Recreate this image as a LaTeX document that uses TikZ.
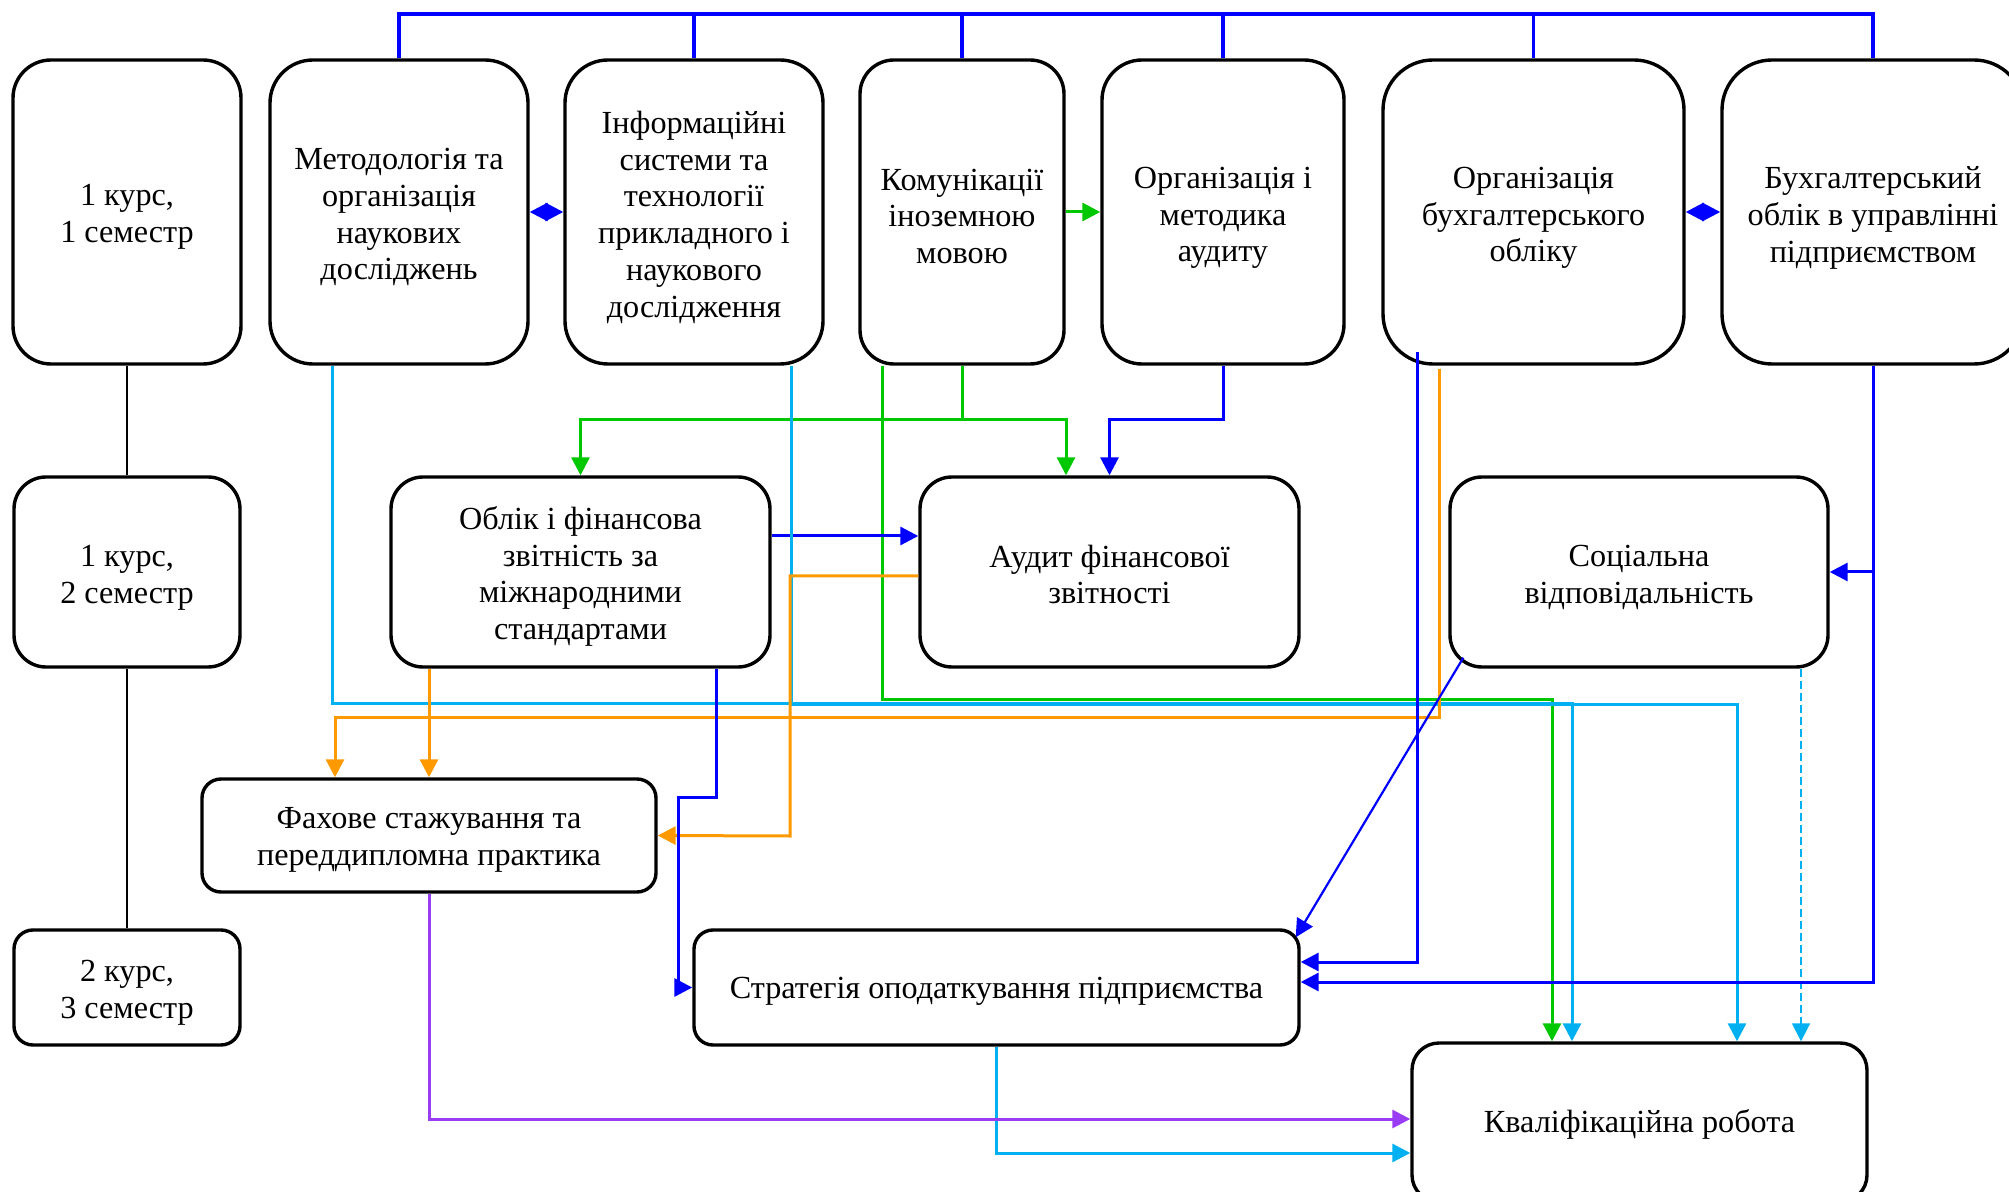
\documentclass[tikz,border=0pt]{standalone}
\usepackage{fontspec}
\setmainfont{Liberation Serif}
\usetikzlibrary{arrows.meta}
\definecolor{cBlue}{HTML}{0000FF}
\definecolor{cCyan}{HTML}{00B0F0}
\definecolor{cGreen}{HTML}{00C800}
\definecolor{cOrange}{HTML}{FF9900}
\definecolor{cPurple}{HTML}{9B3CF5}
% box with separately placed text: [text shift]{name}{x}{y}{w}{h}{r}{text}
\newcommand\bxnode[7][2.5pt]{%
  \node[box, minimum width=#5, minimum height=#6, rounded corners=#7] (#2) at (#3,#4) {};%
}
\begin{document}
\begin{tikzpicture}[x=0.5pt,y=-0.5pt,
  >={Triangle[length=9pt,width=9pt]},
  box/.style={draw=black, line width=1.7pt, inner sep=0pt},
  tx/.style={align=center, inner sep=0pt, font=\fontsize{16.1}{18.4}\selectfont},
  conn/.style={line width=1.5pt},
  bl/.style={conn, draw=cBlue},
  busl/.style={line width=1.75pt, draw=cBlue},
  cy/.style={conn, draw=cCyan},
  gr/.style={conn, draw=cGreen},
  orl/.style={conn, draw=cOrange},
  pu/.style={conn, draw=cPurple},
  blk/.style={line width=1.3pt, draw=black}
]
\clip (0,0) rectangle (2009,1192);
% boxes
\bxnode{s1}{127}{212}{114pt}{152pt}{19pt}
\bxnode{m}{399}{212}{129pt}{152pt}{21.5pt}
\bxnode{inf}{694}{212}{129pt}{152pt}{21.5pt}
\bxnode{k}{962}{212}{102pt}{152pt}{17pt}
\bxnode{o}{1223}{212}{121pt}{152pt}{20pt}
\bxnode{ob}{1533.5}{212}{150.5pt}{152pt}{25pt}
\bxnode{b}{1873}{212}{151pt}{152pt}{25pt}
\bxnode{s2}{127}{572}{113pt}{95pt}{16pt}
\bxnode{of}{580.5}{572}{189.5pt}{95pt}{16pt}
\bxnode{af}{1109.5}{572}{189.5pt}{95pt}{16pt}
\bxnode{sv}{1639}{572}{189pt}{95pt}{16pt}
\bxnode{fs}{429}{835.5}{227pt}{56.5pt}{9.5pt}
\bxnode{s3}{127}{987.5}{113pt}{57.5pt}{9.5pt}
\bxnode{st}{996.5}{987.5}{302.5pt}{57.5pt}{9.5pt}
\bxnode{kr}{1639.5}{1122.5}{227.5pt}{79.5pt}{13.5pt}

% texts
\node[tx] (s1-t) at ([yshift=-2.6pt]s1.center) {1 курс,\\1 семестр};
\node[tx] (m-t) at ([yshift=-2.6pt]m.center) {Методологія та\\організація\\наукових\\досліджень};
\node[tx] (inf-t) at ([yshift=-2.6pt]inf.center) {Інформаційні\\системи та\\технології\\прикладного і\\наукового\\дослідження};
\node[tx] (k-t) at ([yshift=-2.2pt]k.center) {Комунікації\\іноземною\\мовою};
\node[tx] (o-t) at ([yshift=-3pt]o.center) {Організація і\\методика\\аудиту};
\node[tx] (ob-t) at ([yshift=-3pt]ob.center) {Організація\\бухгалтерського\\обліку};
\node[tx] (b-t) at ([yshift=-3pt]b.center) {Бухгалтерський\\облік в управлінні\\підприємством};
\node[tx] (s2-t) at ([yshift=-3pt]s2.center) {1 курс,\\2 семестр};
\node[tx] (of-t) at ([yshift=-2.2pt]of.center) {Облік і фінансова\\звітність за\\міжнародними\\стандартами};
\node[tx] (af-t) at ([yshift=-1.2pt]af.center) {Аудит фінансової\\звітності};
\node[tx] (sv-t) at ([yshift=-2.6pt]sv.center) {Соціальна\\відповідальність};
\node[tx] (fs-t) at ([yshift=-2.2pt]fs.center) {Фахове стажування та\\переддипломна практика};
\node[tx] (s3-t) at ([yshift=-2.6pt]s3.center) {2 курс,\\3 семестр};
\node[tx] (st-t) at ([yshift=-2pt]st.center) {Стратегія оподаткування підприємства};
\node[tx] (kr-t) at ([yshift=-0.8pt]kr.center) {Кваліфікаційна робота};

% semester links
\draw[blk] (s1.south) -- (s2.north);
\draw[blk] (s2.south) -- (s3.north);

% top bus
\coordinate (bus) at (0,14);
\draw[busl] (m.north) |- (b.north |- bus) -- (b.north);
\foreach \n in {inf,k,o,ob} \draw[busl] (\n.north) -- (\n.north |- bus);

% horizontal links in top row
\draw[bl, <->] (m.east) -- (inf.west);
\draw[bl, <->] (ob.east) -- (b.west);
\draw[gr, ->] (k.east) -- (o.west);

% green from K
\coordinate (g1) at (0,420);
\draw[gr, ->] (k.south) -- (k.south |- g1) -| (of.north);
\draw[gr, ->] (k.south |- g1) -| ([xshift=-21.75pt]af.north);
\draw[gr, ->] ([xshift=-40pt]k.south) |- (1552,699) -- ([xshift=-43.75pt]kr.north);

% blue from O to AF
\draw[bl, ->] (o.south) -- (o.south |- g1) -| (af.north);

% blue OF -> AF
\draw[bl, ->] ([yshift=18pt]of.east) -- ([yshift=18pt]af.west);

% cyan lines
\draw[cy, ->] ([xshift=-33.5pt]m.south) |- (1572,703) -- ([xshift=-33.75pt]kr.north);
\draw[cy, ->] ([xshift=48.5pt]inf.south) |- (1737,704) -- ([xshift=48.75pt]kr.north);
\draw[cy, line width=0.9pt, dash pattern=on 4pt off 2pt, ->] ([xshift=81pt]sv.south) -- ([xshift=80.75pt]kr.north);
\draw[cy, ->] (st.south) |- ([yshift=-15.25pt]kr.west);

% purple
\draw[pu, ->] (fs.south) |- ([yshift=1.75pt]kr.west);

% orange lines
\draw[orl, ->] ([xshift=-47.25pt,yshift=-1.5pt]ob.south) |- (335,717) -- ([xshift=-47pt]fs.north);
\draw[orl, ->] ([xshift=-75.75pt]of.south) -- (fs.north);
\draw[orl, ->] ([yshift=-2pt]af.west) -| (790,836) -- (fs.east);

% blue to strategy
\draw[bl, ->] ([xshift=67.75pt]of.south) -- (716,797) -- (678,797) |- (st.west);
\draw[bl, ->] ([xshift=-58.25pt,yshift=7pt]ob.south) |- ([yshift=12.75pt]st.east);
\draw[bl, ->] (b.south) |- ([yshift=2.75pt]st.east);
\draw[bl, ->] (b.south |- sv.east) -- (sv.east);
\draw[bl, line width=1.1pt, ->] ([xshift=7.5pt,yshift=5.5pt]sv.south west) -- ([xshift=-2.5pt,yshift=-4.5pt]st.north east);
\end{tikzpicture}
\end{document}
